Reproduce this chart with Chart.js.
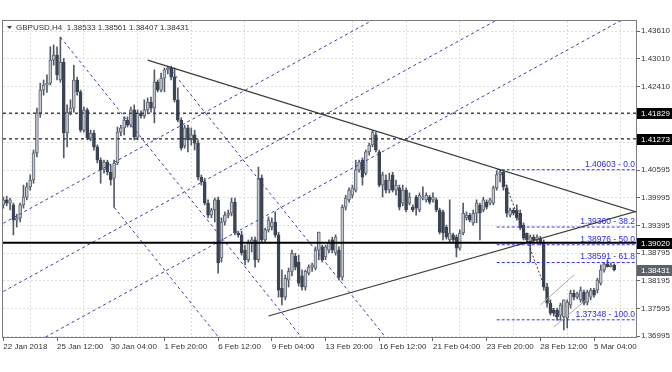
<!DOCTYPE html>
<html>
<head>
<meta charset="utf-8">
<title>GBPUSD,H4</title>
<script src="https://cdn.jsdelivr.net/npm/chart.js@4.4.1/dist/chart.umd.min.js"></script>
<style>
    html, body { margin: 0; padding: 0; background: #fff; }
    #wrap { width: 672px; height: 372px; }
</style>
</head>
<body>
<div id="wrap"><canvas id="chart" width="672" height="372"></canvas></div>
<script>
// chart data
const symbolTitle = 'GBPUSD,H4';

const timeLabelBars = [0, 16, 32, 48, 64, 80, 96, 112, 128, 144, 160, 176];
const timeLabels = ['22 Jan 2018', '25 Jan 12:00', '30 Jan 04:00', '1 Feb 20:00', '6 Feb 12:00', '9 Feb 04:00',
    '13 Feb 20:00', '16 Feb 12:00', '21 Feb 04:00', '23 Feb 20:00', '28 Feb 12:00', '5 Mar 04:00'];

const priceTicks = [1.43610, 1.43010, 1.42410, 1.41795, 1.41195, 1.40595, 1.39995, 1.39395, 1.38795, 1.38195, 1.37595, 1.36995];

const opens = [
    1.3984, 1.3995, 1.3988, 1.3984, 1.3951, 1.3956, 1.3984, 1.4001, 1.4023, 1.4038,
    1.4097, 1.4183, 1.4233, 1.4244, 1.4248, 1.4298, 1.4309, 1.4255, 1.4294, 1.4140,
    1.4185, 1.4194, 1.4255, 1.4229, 1.4146, 1.4190, 1.4129, 1.4140, 1.4110, 1.4081,
    1.4060, 1.4077, 1.4055, 1.4042, 1.4075, 1.4142, 1.4151, 1.4168, 1.4157, 1.4190,
    1.4131, 1.4183, 1.4177, 1.4190, 1.4207, 1.4194, 1.4251, 1.4233, 1.4259, 1.4277,
    1.4281, 1.4261, 1.4212, 1.4168, 1.4112, 1.4151, 1.4125, 1.4136, 1.4118, 1.4044,
    1.4034, 1.3988, 1.3962, 1.3973, 1.3995, 1.3869, 1.3947, 1.3962, 1.3966, 1.3990,
    1.3923, 1.3919, 1.3886, 1.3865, 1.3901, 1.3908, 1.3865, 1.4042, 1.3908, 1.3930,
    1.3936, 1.3947, 1.3919, 1.3803, 1.3784, 1.3821, 1.3840, 1.3873, 1.3860, 1.3830,
    1.3806, 1.3836, 1.3849, 1.3847, 1.3886, 1.3893, 1.3871, 1.3886, 1.3908, 1.3880,
    1.3886, 1.3827, 1.3979, 1.3995, 1.4005, 1.4016, 1.4060, 1.4081, 1.4053, 1.4099,
    1.4114, 1.4136, 1.4099, 1.4027, 1.4038, 1.4016, 1.4049, 1.4016, 1.4021, 1.3988,
    1.4016, 1.3988, 1.3979, 1.4001, 1.3973, 1.3999, 1.3995, 1.4001, 1.3995, 1.3995,
    1.3973, 1.3969, 1.3936, 1.3908, 1.3919, 1.3914, 1.3890, 1.3923, 1.3956, 1.3962,
    1.3945, 1.3966, 1.3984, 1.3973, 1.3990, 1.3988, 1.3988, 1.4021, 1.4050, 1.4055,
    1.4021, 1.3962, 1.3973, 1.3973, 1.3966, 1.3940, 1.3923, 1.3903, 1.3914, 1.3908,
    1.3912, 1.3901, 1.3806, 1.3771, 1.3756, 1.3756, 1.3745, 1.3741, 1.3739, 1.3767,
    1.3792, 1.3784, 1.3778, 1.3795, 1.3773, 1.3784, 1.3799, 1.3799, 1.3814, 1.3843,
    1.3856, 1.3850, 1.38533
];
const highs = [
    1.4001, 1.4003, 1.3999, 1.3988, 1.3964, 1.3988, 1.4027, 1.4032, 1.4049, 1.4103,
    1.4194, 1.4248, 1.4255, 1.4266, 1.4327, 1.4331, 1.4327, 1.4348, 1.4302, 1.4201,
    1.4212, 1.4287, 1.4261, 1.4233, 1.4196, 1.4194, 1.4146, 1.4146, 1.4114, 1.4086,
    1.4081, 1.4081, 1.4071, 1.4081, 1.4153, 1.4157, 1.4175, 1.4175, 1.4196, 1.4201,
    1.4190, 1.4188, 1.4212, 1.4216, 1.4218, 1.4277, 1.4255, 1.4270, 1.4281, 1.4285,
    1.4285, 1.4281, 1.4238, 1.4173, 1.4157, 1.4157, 1.4151, 1.4146, 1.4125, 1.4049,
    1.4042, 1.3995, 1.3977, 1.3999, 1.4001, 1.3956, 1.3969, 1.3973, 1.3999, 1.3999,
    1.3927, 1.3927, 1.3897, 1.3908, 1.3914, 1.3914, 1.4066, 1.4049, 1.3934, 1.3958,
    1.3956, 1.3969, 1.3925, 1.3843, 1.3832, 1.3847, 1.3886, 1.3879, 1.3875, 1.3843,
    1.3843, 1.3854, 1.3858, 1.3893, 1.3925, 1.3897, 1.3897, 1.3908, 1.3914, 1.3919,
    1.3893, 1.3984, 1.4005, 1.4021, 1.4027, 1.4081, 1.4081, 1.4086, 1.4103, 1.4118,
    1.4146, 1.4142, 1.4103, 1.4055, 1.4049, 1.4053, 1.4055, 1.4038, 1.4027, 1.4027,
    1.4021, 1.4010, 1.3984, 1.4005, 1.4010, 1.4023, 1.4010, 1.4005, 1.4010, 1.3999,
    1.3977, 1.3973, 1.3940, 1.3995, 1.3923, 1.3919, 1.3930, 1.3988, 1.3969, 1.3966,
    1.3973, 1.3995, 1.3988, 1.4001, 1.3995, 1.3999, 1.4025, 1.4058, 1.40603, 1.4058,
    1.4027, 1.3977, 1.3977, 1.3984, 1.3973, 1.3945, 1.3923, 1.3919, 1.3919, 1.3919,
    1.3916, 1.3908, 1.3814, 1.3778, 1.3760, 1.3760, 1.3771, 1.3778, 1.3778, 1.3799,
    1.3799, 1.3795, 1.3806, 1.3799, 1.3799, 1.3803, 1.3803, 1.3825, 1.3854, 1.3858,
    1.3865, 1.3858, 1.38561
];
const lows = [
    1.3977, 1.3982, 1.3973, 1.3919, 1.3936, 1.3947, 1.3977, 1.3995, 1.4016, 1.4031,
    1.4088, 1.4174, 1.4222, 1.4228, 1.4244, 1.4287, 1.4255, 1.4250, 1.4086, 1.4110,
    1.4179, 1.4185, 1.4222, 1.4142, 1.4142, 1.4125, 1.4123, 1.4103, 1.4075, 1.4031,
    1.4053, 1.4049, 1.4027, 1.3979, 1.4071, 1.4134, 1.4136, 1.4153, 1.4153, 1.4125,
    1.4125, 1.4172, 1.4172, 1.4185, 1.4185, 1.4162, 1.4229, 1.4229, 1.4229, 1.4268,
    1.4255, 1.4207, 1.4164, 1.4103, 1.4107, 1.4099, 1.4114, 1.4103, 1.4038, 1.4027,
    1.3984, 1.3956, 1.3956, 1.3947, 1.3836, 1.3860, 1.3940, 1.3956, 1.3960, 1.3919,
    1.3914, 1.3875, 1.3854, 1.3860, 1.3882, 1.3849, 1.3860, 1.3901, 1.3901, 1.3925,
    1.3930, 1.3914, 1.3784, 1.3767, 1.3778, 1.3806, 1.3830, 1.3843, 1.3808, 1.3799,
    1.3799, 1.3832, 1.3840, 1.3843, 1.3865, 1.3860, 1.3865, 1.3880, 1.3880, 1.3875,
    1.3821, 1.3821, 1.3973, 1.3990, 1.3999, 1.4012, 1.4055, 1.4027, 1.4049, 1.4092,
    1.4110, 1.4099, 1.4023, 1.4001, 1.4010, 1.4010, 1.4012, 1.4005, 1.3973, 1.3982,
    1.3969, 1.3984, 1.3969, 1.3962, 1.3969, 1.3995, 1.3990, 1.3986, 1.3990, 1.3969,
    1.3921, 1.3908, 1.3910, 1.3903, 1.3903, 1.3871, 1.3886, 1.3919, 1.3951, 1.3947,
    1.3940, 1.3945, 1.3908, 1.3969, 1.3975, 1.3984, 1.3984, 1.4016, 1.4034, 1.4016,
    1.3958, 1.3958, 1.3962, 1.3951, 1.3930, 1.3908, 1.3903, 1.3860, 1.3903, 1.3903,
    1.3897, 1.3799, 1.3762, 1.3745, 1.3743, 1.3734, 1.3734, 1.3713, 1.3717, 1.3760,
    1.3778, 1.3780, 1.3773, 1.3767, 1.3767, 1.3778, 1.3784, 1.3793, 1.3810, 1.3838,
    1.3849, 1.3849, 1.38407
];
const closes = [
    1.3995, 1.3988, 1.3995, 1.3951, 1.3956, 1.3984, 1.4001, 1.4023, 1.4038, 1.4097,
    1.4183, 1.4233, 1.4244, 1.4248, 1.4298, 1.4309, 1.4266, 1.4294, 1.4140, 1.4185,
    1.4194, 1.4255, 1.4229, 1.4146, 1.4190, 1.4129, 1.4140, 1.4110, 1.4081, 1.4060,
    1.4077, 1.4055, 1.4038, 1.4075, 1.4142, 1.4151, 1.4168, 1.4157, 1.4190, 1.4131,
    1.4183, 1.4177, 1.4190, 1.4207, 1.4194, 1.4251, 1.4233, 1.4259, 1.4277, 1.4281,
    1.4261, 1.4212, 1.4168, 1.4107, 1.4151, 1.4125, 1.4136, 1.4118, 1.4044, 1.4034,
    1.3988, 1.3962, 1.3973, 1.3995, 1.3858, 1.3947, 1.3962, 1.3966, 1.3990, 1.3923,
    1.3919, 1.3880, 1.3865, 1.3901, 1.3908, 1.3865, 1.4042, 1.3908, 1.3930, 1.3951,
    1.3947, 1.3919, 1.3799, 1.3784, 1.3825, 1.3840, 1.3879, 1.3849, 1.3814, 1.3806,
    1.3840, 1.3849, 1.3854, 1.3886, 1.3925, 1.3865, 1.3893, 1.3901, 1.3886, 1.3914,
    1.3827, 1.3979, 1.3999, 1.4016, 1.4021, 1.4060, 1.4077, 1.4044, 1.4099, 1.4114,
    1.4142, 1.4103, 1.4027, 1.4049, 1.4016, 1.4038, 1.4016, 1.4027, 1.3979, 1.4016,
    1.3973, 1.4001, 1.3973, 1.3977, 1.4005, 1.4001, 1.4005, 1.3990, 1.4001, 1.3973,
    1.3925, 1.3923, 1.3914, 1.3923, 1.3908, 1.3890, 1.3923, 1.3966, 1.3962, 1.3951,
    1.3966, 1.3988, 1.3966, 1.3995, 1.3979, 1.3995, 1.4021, 1.4050, 1.4055, 1.4023,
    1.3966, 1.3973, 1.3966, 1.3956, 1.3934, 1.3912, 1.3908, 1.3914, 1.3908, 1.3914,
    1.3901, 1.3806, 1.3771, 1.3749, 1.3749, 1.3741, 1.3767, 1.3778, 1.3773, 1.3792,
    1.3784, 1.3791, 1.3799, 1.3771, 1.3795, 1.3799, 1.3788, 1.3821, 1.3843, 1.3856,
    1.3850, 1.3853, 1.38431
];

// drawn objects, in bar number and price
const dashedLevels = [1.41829, 1.41273];
const supportLevel = 1.39020;
const risingChannel = [[0, 1.39443, 120, 1.44248], [0, 1.37963, 150, 1.43969], [0, 1.36471, 188, 1.44000]];
const fallingChannel = [[17, 1.43480, 95, 1.36411], [33, 1.39790, 70, 1.36437], [49, 1.42850, 120, 1.36415]];
const triangleLines = [[43, 1.42980, 189, 1.39680], [79, 1.37430, 189, 1.39710]];
const thinLines = [[160, 1.37670, 170, 1.38320], [164, 1.37190, 175.4, 1.37890]];
const fibStartBar = 147;
const fibLevels = [1.40603, 1.39360, 1.38976, 1.38591, 1.37348];
const fibNames = ['0.0', '38.2', '50.0', '61.8', '100.0'];
const fibSwing = [148, 1.40603, 165, 1.37348];

const X_MIN = -0.1;
const X_MAX = 188.5;
const FAMILY = '"Liberation Sans", Arial, sans-serif';

function segment(seg, color, width, dash) {
    return {
        type: 'line',
        data: [{ x: seg[0], y: seg[1] }, { x: seg[2], y: seg[3] }],
        borderColor: color,
        borderWidth: width,
        borderDash: dash || [],
        pointRadius: 0,
        tension: 0,
        clip: 0,
        order: 1
    };
}

const isBull = i => closes[i] >= opens[i];

const datasets = [];

// wicks
datasets.push({
    type: 'bar',
    data: highs.map((h, i) => ({ x: i, y: [lows[i], h] })),
    backgroundColor: '#545b68',
    barThickness: 1,
    grouped: false,
    clip: 0,
    order: 6
});
// bodies
datasets.push({
    type: 'bar',
    data: opens.map((o, i) => ({ x: i, y: [o, closes[i]] })),
    backgroundColor: ctx => isBull(ctx.dataIndex) ? '#c3c7ce' : '#3b4452',
    borderColor: ctx => isBull(ctx.dataIndex) ? '#626874' : '#3b4452',
    borderWidth: 1,
    borderSkipped: false,
    barThickness: 3,
    minBarLength: 1,
    grouped: false,
    clip: 0,
    order: 5
});

dashedLevels.forEach(v => datasets.push(segment([X_MIN, v, X_MAX, v], '#3a3a3a', 1.4, [3, 3])));
datasets.push(segment([X_MIN, supportLevel, X_MAX, supportLevel], '#000000', 2));
risingChannel.forEach(s => datasets.push(segment(s, '#3d3daa', 1, [3, 3])));
fallingChannel.forEach(s => datasets.push(segment(s, '#3d3daa', 1, [3, 3])));
triangleLines.forEach(s => datasets.push(segment(s, '#3c3c3c', 1.2)));
thinLines.forEach(s => datasets.push(segment(s, '#a8a8a8', 1)));
fibLevels.forEach(v => datasets.push(segment([fibStartBar, v, X_MAX, v], '#3535f5', 1, [3, 2])));
datasets.push(segment(fibSwing, '#333333', 1, [2, 2]));

// frame, header, fibo texts and price boxes
const mtOverlay = {
    id: 'mtOverlay',
    afterDraw(chart) {
        const { ctx, chartArea: a, scales: { y } } = chart;
        ctx.save();

        ctx.strokeStyle = '#7c7c7c';
        ctx.lineWidth = 1;
        ctx.strokeRect(a.left - 0.5, a.top - 0.5, a.right - a.left + 1, a.bottom - a.top + 1);

        ctx.fillStyle = '#3a3a3a';
        ctx.beginPath();
        ctx.moveTo(7, 26);
        ctx.lineTo(12, 26);
        ctx.lineTo(9.5, 29);
        ctx.closePath();
        ctx.fill();

        const last = opens.length - 1;
        const ohlc = [opens[last], highs[last], lows[last], closes[last]].map(v => v.toFixed(5)).join(' ');
        ctx.font = '8px ' + FAMILY;
        ctx.textAlign = 'left';
        ctx.textBaseline = 'middle';
        ctx.fillStyle = '#333333';
        ctx.fillText(symbolTitle + '  ' + ohlc, 16, 28);

        ctx.font = '8.5px ' + FAMILY;
        ctx.fillStyle = '#2a2af0';
        ctx.textAlign = 'right';
        ctx.textBaseline = 'alphabetic';
        fibLevels.forEach((v, k) => {
            ctx.fillText(v.toFixed(5) + ' - ' + fibNames[k], a.right - 1, Math.round(y.getPixelForValue(v)) - 3);
        });

        const boxes = dashedLevels.concat([supportLevel]).map(v => ({ v: v, bg: '#000000' }));
        boxes.push({ v: closes[last], bg: '#5d626a' });
        ctx.font = '8px ' + FAMILY;
        ctx.textAlign = 'left';
        ctx.textBaseline = 'middle';
        boxes.forEach(b => {
            const py = Math.round(y.getPixelForValue(b.v));
            ctx.fillStyle = b.bg;
            ctx.fillRect(a.right + 1, py - 5, chart.width - a.right - 1, 11);
            ctx.fillStyle = '#ffffff';
            ctx.fillText(b.v.toFixed(5), a.right + 5, py + 0.5);
        });

        ctx.restore();
    }
};

new Chart(document.getElementById('chart'), {
    type: 'bar',
    data: { datasets: datasets },
    options: {
        responsive: false,
        animation: false,
        devicePixelRatio: 1,
        layout: { padding: { left: 3, top: 21, right: 0, bottom: 0 } },
        plugins: { legend: { display: false }, tooltip: { enabled: false } },
        scales: {
            x: {
                type: 'linear',
                min: X_MIN,
                max: X_MAX,
                offset: false,
                afterBuildTicks: scale => {
                    const t = [];
                    for (let b = 0; b <= 184; b += 8) t.push({ value: b });
                    scale.ticks = t;
                },
                afterFit: scale => { scale.height = 35; },
                ticks: {
                    autoSkip: false,
                    maxRotation: 0,
                    align: 'start',
                    padding: 1,
                    color: '#333333',
                    font: { family: FAMILY, size: 8 },
                    callback: v => {
                        const k = timeLabelBars.indexOf(v);
                        return k >= 0 ? timeLabels[k] : '';
                    }
                },
                grid: {
                    offset: false,
                    drawTicks: true,
                    tickLength: 4,
                    color: ctx => (ctx.tick && timeLabelBars.indexOf(ctx.tick.value) >= 0) ? 'rgba(0,0,0,0)' : '#dedede',
                    tickColor: ctx => (ctx.tick && timeLabelBars.indexOf(ctx.tick.value) >= 0) ? '#666666' : 'rgba(0,0,0,0)'
                },
                border: { display: false, dash: [2, 2] }
            },
            y: {
                type: 'linear',
                position: 'right',
                min: 1.36975,
                max: 1.43829,
                beginAtZero: false,
                afterBuildTicks: scale => {
                    scale.ticks = priceTicks.map(v => ({ value: v }));
                },
                afterFit: scale => { scale.width = 36; },
                ticks: {
                    autoSkip: false,
                    padding: 1,
                    color: '#333333',
                    font: { family: FAMILY, size: 8 },
                    callback: v => v.toFixed(5)
                },
                grid: {
                    drawTicks: true,
                    tickLength: 4,
                    color: '#dedede',
                    tickColor: '#666666'
                },
                border: { display: false, dash: [2, 2] }
            }
        }
    },
    plugins: [mtOverlay]
});
</script>
</body>
</html>
